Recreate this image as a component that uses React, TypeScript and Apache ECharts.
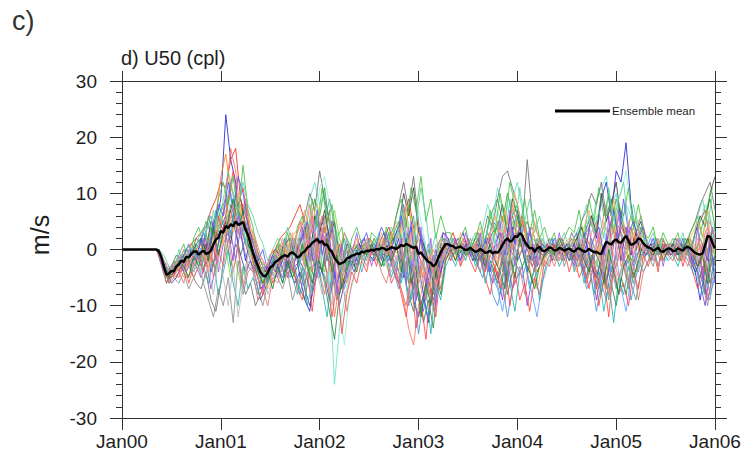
import React, { useEffect, useRef } from "react";
import * as echarts from "echarts";

// ---- data ----
const X_TICK_LABELS = ["Jan00", "Jan01", "Jan02", "Jan03", "Jan04", "Jan05", "Jan06"];
const Y_MIN = -30;
const Y_MAX = 30;
// members start to diverge at T0 (years since Jan00), sampled every STEP years;
// the second set of members is sampled half a step later (T0B); the mean every MEAN_STEP
const T0 = 0.35;
const T0B = 0.375;
const STEP = 0.05;
const MEAN_STEP = 0.025;

const M01 = [0, -2,-5,-5,
  -4,-1,-3,0,-2, 2,-3,1,5,9, 24,16,12,3,-2, 2,-3,-7,-6,-2, -4,-1,2,-3,1, -5,-9,-11,-4,3,
  6,2,-5,-8,-3, 0,-3,1,2,-1, -2,1,3,-1,-4, -6,-2,4,-9,-12, -8,-13,-5,-2,3, 2,-1,1,3,0,
  -2,2,-3,1,5, 4,-2,-6,3,7, 2,-4,1,-3,0, 1,-2,0,2,-1, 1,3,-2,4,6, 2,9,12,6,14,
  12,19,8,3,5, 1,-2,2,0,-1, 0,2,-1,1,-2, -4,-9,-3,2,-6];
const M02 = [0, -1,-4,-3,
  -3,-2,0,1,2, 3,4,7,9,12, 11,16,18,9,6, 3,1,-2,-4,-1, 0,2,3,4,6, 8,5,2,6,4,
  3,7,-2,1,-4, -3,-2,1,0,2, 1,-1,2,4,1, 3,6,9,4,-1, -3,-6,-8,-4,-1, 1,3,0,-1,2,
  0,-2,1,-4,-2, -5,-1,3,6,2, 5,1,-3,-1,2, 0,1,-2,-1,1, -2,1,-3,-5,-1, -7,-3,2,5,1,
  4,2,-1,3,6, 2,0,-1,2,1, -1,0,1,-1,0, 3,5,7,2,4];
const M03 = [0, -2,-4,-5,
  -3,-4,-2,-3,1, -1,3,-2,4,7, 9,4,8,6,2, -1,-3,-5,-6,-4, -3,0,-2,1,-1, 2,-3,4,9,6,
  11,4,0,-3,-6, -4,-1,0,1,-1, 2,0,-3,1,3, 5,-2,-6,-3,4, 1,-4,-2,0,2, -1,0,2,1,-1,
  1,3,-1,4,7, 9,5,10,6,8, 3,5,2,1,-2, -1,0,1,-2,0, 2,-1,4,1,-3, -5,-1,-7,4,9,
  6,3,-2,0,4, 1,-2,0,1,-1, 0,1,-2,0,2, -2,3,6,9,4];
const M04 = [0, -1,-6,-4,
  -5,-3,-1,-2,0, 1,-2,3,6,13, 17,10,6,8,4, 2,-2,-5,-4,-3, -2,-3,0,-2,-4, -6,-1,3,-2,1,
  4,-1,-7,-4,-2, -2,0,-1,1,0, -1,2,0,3,-2, -4,2,7,3,-3, -5,-2,0,-3,1, 0,2,1,-1,1,
  -1,0,2,-2,-4, -2,2,5,0,3, 6,2,-1,-4,-2, 1,-1,0,2,0, -1,0,2,-2,3, 5,-3,1,-2,4,
  0,3,6,2,-2, -1,1,0,-2,0, 1,-1,0,2,1, -2,1,-4,3,1];
const M05 = [0, -1,-3,-4,
  -2,-3,-1,0,-3, -4,1,-3,5,8, 6,10,5,7,3, 0,-1,-3,-5,-2, -1,-2,1,-3,0, -3,4,9,12,8,
  10,-6,-24,-14,-9, -5,-2,0,-1,1, 0,3,-2,-4,-1, 2,6,-3,-7,-2, -4,-7,-3,1,2, 1,-1,0,2,0,
  2,-1,4,8,5, 11,7,3,9,12, 7,3,0,-2,1, -1,2,0,-1,1, 0,2,5,8,4, 9,11,13,7,10,
  4,8,6,3,1, 2,0,-1,1,-2, -1,0,2,-1,0, 2,5,8,6,-2];
const M06 = [0, -2,-5,-3,
  -3,-1,-4,-2,-3, -5,-2,-7,-3,1, 5,3,-2,4,1, -2,-4,-6,-3,-5, -2,1,-1,0,-3, -2,-4,1,-3,5,
  2,-3,1,-5,-1, 0,-2,-1,0,1, -1,0,1,-2,0, 3,8,2,-4,-9, -11,-5,-9,-6,-2, 0,1,-1,0,1,
  -2,1,-1,-3,-6, -4,-9,-2,-7,-5, -3,-10,-5,-2,0, -1,0,1,-1,0, -2,1,-3,-6,-2, -9,-4,-1,-5,-3,
  1,-3,0,-2,1, 0,1,-1,0,-1, 1,0,-1,1,0, -3,-6,-10,-4,2];
const M07 = [0, -3,-6,-4,
  -4,-3,-5,-4,-6, -7,-4,-9,-11,-6, 2,8,5,-4,-8, -6,-10,-8,-5,-3, -4,-2,-5,-1,-2, 3,6,10,7,14,
  9,5,2,-1,3, 1,-1,0,-2,0, 1,-2,0,2,4, 8,12,7,13,5, -2,0,-4,1,3, 2,0,1,-1,0,
  1,3,2,6,4, 9,13,14,11,8, 4,16,6,3,1, 0,2,-1,1,0, 3,1,5,7,10, 8,12,6,9,5,
  3,1,4,0,2, -1,1,0,-1,1, 0,2,1,0,3, 5,8,10,12,7];
const M08 = [0, -2,-4,-3,
  -1,-2,-3,-1,2, 1,-1,4,2,6, 3,-3,1,-1,2, 0,-4,-3,-6,-3, -1,-3,-4,-2,-5, -7,-9,-3,-5,-2,
  -6,-11,-16,-8,-5, -3,-2,1,0,-1, 0,1,-2,-1,2, -1,-4,-8,-11,-7, -13,-9,-14,-5,-1, 0,-1,1,0,-1,
  0,-2,1,-1,-3, -6,-2,-8,-4,0, -3,-1,-6,-4,-2, 1,0,-1,0,1, 0,-2,1,-3,-1, -4,-8,-3,-6,-10,
  -5,-8,-3,-1,0, -1,0,1,-1,0, 0,-1,0,1,-1, -3,-5,-2,-6,-1];
const M09 = [0, -1,-5,-3,
  -2,-4,-1,-3,1, 0,3,6,2,5, 8,12,7,3,5, 1,-2,-4,-5,-1, -3,0,2,-1,1, -2,3,-1,5,2,
  -3,4,1,-3,-7, -4,-1,0,2,0, 1,-1,0,-3,-1, -2,3,-5,-1,4, 2,-3,-6,-2,1, 0,2,-1,1,-1,
  0,-3,2,-1,-5, -7,-11,-6,-2,3, 1,-4,-8,-12,-6, -2,0,-1,1,0, 1,-1,2,-2,-4, -2,-6,3,-4,-1,
  -7,-11,-5,-2,1, 0,2,-1,0,1, -1,0,1,0,-1, -2,-4,-7,-9,-3];
const M10 = [0, -2,-5,-4,
  -4,-2,-3,1,-1, -3,-5,2,-1,4, 10,18,14,6,9, 4,2,-1,-3,-5, -1,-2,0,3,1, 5,2,8,3,-4,
  -8,-2,-12,-6,0, -1,1,0,-1,2, 0,-1,2,0,-3, -5,-9,-14,-17,-10, -6,-3,-11,-4,0, 1,0,-1,2,0,
  -1,1,-2,2,4, 2,6,1,8,4, 5,2,4,0,-1, 0,-1,1,0,-1, 1,2,-1,3,5, 1,4,8,2,6,
  -3,-1,3,5,2, 0,-1,1,0,1, -1,1,0,-1,0, 1,-2,3,5,2];
const M11 = [0, -1,-4,-5,
  -3,-1,-2,-4,0, 2,5,3,7,4, 6,2,9,5,8, 3,1,-2,-3,-4, -3,-1,-3,0,2, -3,-6,-2,2,-1,
  5,9,4,-2,-4, -2,0,1,-1,0, -1,1,0,-1,2, 4,-3,2,6,-4, -2,1,-5,-3,-1, 1,0,2,0,1,
  -1,2,0,3,1, 5,-4,2,-3,6, 0,3,-1,2,-3, 0,1,0,-1,0, -1,2,0,-3,2, -1,3,5,9,4,
  7,2,-6,-9,-4, -1,0,2,-1,0, 1,-1,0,2,-1, 0,-3,2,-4,5];
const M12 = [0, -2,-3,-4,
  -2,-3,0,-1,-2, -1,-3,-1,-4,2, 0,-5,-2,-6,-3, 1,-2,-4,-7,-3, -1,2,0,-1,-2, 0,-2,-5,2,-1,
  -4,3,7,2,-1, 1,0,-2,-1,0, 0,-2,1,3,0, -1,5,8,2,-5, -3,0,-6,-2,1, 0,-1,1,-1,1,
  1,0,-2,0,2, 4,1,-3,5,2, 0,-2,3,1,2, -1,0,1,0,-1, 0,-2,-1,2,0, -3,1,-2,5,1,
  3,-1,2,6,3, 1,0,-1,1,0, 0,1,-1,0,1, -1,2,0,3,-1];
const M13 = [0, -1,-4,-6,
  -5,-3,-2,0,-1, -2,1,-4,-1,3, 5,7,3,-1,-4, -2,-5,-9,-7,-4, -5,-3,-1,-4,-6, -4,-7,-10,-6,-3,
  -5,-9,-4,-10,-6, -2,-4,-1,0,-1, -2,0,-1,1,-1, 2,-5,-1,-7,-3, -8,-4,-1,-6,-2, -1,0,1,0,-1,
  0,1,-1,2,-1, -3,3,-1,4,-2, 0,2,-2,-1,1, 0,-1,0,1,0, -1,0,-2,1,-3, -5,-2,-6,-1,3,
  -2,4,-1,2,0, -1,0,1,0,-1, 0,-1,0,1,-1, -4,-2,-8,1,-3];
const M14 = [0, -1,-5,-4,
  -3,-2,0,-1,-3, 0,-2,3,1,6, 4,9,11,7,2, -1,-3,-6,-4,-2, -2,-1,1,-2,0, 3,1,-3,4,11,
  13,8,-3,-10,-17, -8,-5,-2,0,-1, 1,-1,0,2,1, 3,-2,5,1,7, 3,-2,-5,-1,1, 0,1,0,-1,0,
  1,-1,3,-2,2, 7,3,8,2,-1, 4,1,-2,0,2, 0,1,-1,0,1, 1,-1,2,5,3, 6,1,4,-2,8,
  10,14,7,4,6, 1,-1,0,2,0, 0,1,0,-1,1, 2,4,1,6,3];
const M15 = [0, -2,-5,-4,
  -2,-4,-3,-1,-2, -1,1,-2,3,1, 3,6,4,2,5, 1,-1,-3,-5,-3, -2,-1,0,-1,1, -1,1,-2,3,0,
  2,-1,-3,1,-2, -1,0,1,-1,1, 0,-1,1,0,-1, 1,-2,3,-1,2, 0,-2,-4,-1,1, 0,1,-1,0,1,
  -1,0,1,-1,0, 1,-2,3,-1,2, 0,1,-1,1,0, 0,1,0,-1,0, 1,0,-1,2,0, 1,-2,2,0,3,
  1,0,2,1,0, 0,-1,1,0,1, 0,1,0,-1,0, 0,2,-1,1,2];
const M16 = [0, -1,-3,-5,
  -4,-2,-1,-2,0, -2,2,-1,3,5, 7,11,9,4,1, -1,-4,-6,-5,-2, -1,1,-2,2,3, 4,7,3,-1,5,
  6,1,-4,0,3, 0,-1,2,1,-1, 0,2,1,-1,3, 2,5,1,-2,-6, -4,-8,-5,-1,1, 1,0,-1,1,0,
  -1,2,0,-3,1, -3,2,6,3,5, 1,-2,-5,-7,-3, 0,-1,1,0,1, -2,-4,-1,-6,-3, 0,-2,-5,1,-3,
  0,-5,-2,-4,1, 0,1,-1,0,-1, 1,0,-1,0,2, -1,-3,0,-2,1];
const M17 = [0, -2,-4,-4,
  -3,-1,-2,0,-1, -3,0,2,-2,4, 6,3,10,5,1, 0,-2,-5,-3,-4, -3,-4,-2,-5,-3, -8,-4,-7,-1,-5,
  -2,-7,-3,-1,2, -2,0,-1,1,0, 1,0,-2,-1,-4, -7,-3,-10,-6,-15, -9,-12,-7,-3,-1, 0,-1,0,1,0,
  -1,-3,-5,-2,-8, -10,-6,-12,-7,-3, -5,-2,1,-3,0, 1,0,-1,0,1, -1,-3,-2,-7,-5, -11,-6,-9,-3,-7,
  -4,-2,-9,-5,-1, -1,1,0,-1,0, 0,-1,1,0,-1, -1,-6,-4,-8,-5];
const M18 = [0, -1,-4,-4,
  -3,-2,0,-1,1, 2,0,5,3,2, 5,1,7,9,4, 3,0,-3,-4,-2, 0,-1,1,2,-1, 1,4,-2,6,3,
  7,2,5,-1,-3, -2,0,1,-1,0, -1,1,0,1,2, 4,10,6,11,3, 1,-2,-6,-3,0, 1,0,-1,0,1,
  0,2,-1,1,3, 4,8,3,9,6, 2,0,-2,1,-1, 0,1,0,-1,1, 0,2,4,1,6, 3,10,5,8,12,
  5,2,0,3,-1, 0,1,0,-1,1, -1,0,1,0,-1, 3,6,4,10,13];

// second set (sampled from T0B)
const N01 = [-1, -3,-6,-4,
  -5,-2,-6,-3,-1, -4,2,-3,6,3, 9,14,8,11,5, -2,-5,-8,-3,-6, -4,0,-5,-2,-7, -9,-4,-11,-3,2,
  -5,-12,-6,-15,-8, -4,-6,-2,-4,0, -3,1,-2,-6,-4, -8,-12,-5,-14,-9, -16,-7,-12,-3,1, -2,2,-3,1,-2,
  -4,-1,-5,-8,-3, -7,-2,-10,-4,-9, -6,-11,-5,-8,-2, -3,1,-2,0,-4, -1,-5,-3,-7,-2, -10,-5,-12,-3,-8,
  -6,-10,-4,-7,-1, -3,0,-4,2,-1, -2,1,-3,0,-4, -7,-3,-9,-5];
const N02 = [0, -2,-5,-3,
  -1,1,-3,2,4, 1,6,2,9,12, 8,13,6,15,7, 4,-1,-3,-6,-2, 1,-2,3,-1,4, 6,2,9,4,11,
  5,8,2,4,-3, 2,4,1,-1,3, 2,-1,4,1,6, 9,4,11,7,13, 5,9,2,6,3, 3,-1,2,4,0,
  2,5,1,7,3, 10,5,12,8,4, 9,3,7,2,4, 1,3,-1,2,4, 3,7,2,9,5, 11,6,10,3,8,
  6,11,4,8,3, 2,4,0,3,1, 1,3,-1,2,4, 6,2,8,11];
const N03 = [-1, -4,-3,-5,
  -1,-4,0,-3,-2, 2,-1,5,-4,1, 3,-2,6,1,-3, -4,-2,-7,-5,-2, -5,-1,-3,2,-2, 4,-3,6,-5,3,
  -2,5,-8,1,-5, -1,3,-2,1,-3, 1,-2,3,-1,-4, 2,-6,5,-9,4, -7,2,-10,-2,3, -1,2,-2,3,0,
  -2,3,-4,2,-1, 5,-4,7,-3,2, -2,4,-3,2,-1, 2,-1,3,-2,1, -3,2,-4,4,-2, 3,-5,6,-4,7,
  -2,5,-3,2,-1, 1,-2,2,-3,1, -1,2,-2,1,-3, 4,-5,3,-2];
const N04 = [0, -3,-4,-2,
  -3,0,-2,-4,-1, -3,-6,-2,-8,-4, 0,-6,-10,-3,-7, -5,-8,-4,-6,-2, -3,-6,-2,-5,-8, -3,-10,-6,-2,-7,
  -12,-4,-9,-5,-2, -3,0,-4,-1,-2, 0,-3,-1,-5,-2, -6,-2,-9,-4,-11, -7,-15,-6,-9,-3, -1,-3,0,-2,1,
  -3,-1,-6,-2,-5, -8,-3,-6,-11,-4, -2,-7,-3,-9,-4, -2,0,-3,-1,1, -4,-1,-6,-3,-8, -4,-11,-6,-13,-5,
  -8,-3,-6,-2,-4, -2,1,-3,0,-2, -1,-3,0,-2,-4, -5,-8,-4,-2];
const N05 = [0, -2,-4,-5,
  -3,-5,-1,-3,1, 0,-3,2,5,1, 7,3,10,4,6, 2,-2,-4,-7,-4, -2,1,-1,3,-1, 2,-1,5,8,3,
  2,-4,1,-6,0, -1,2,-2,1,-1, 0,3,-1,2,5, 3,8,-2,5,-1, -4,0,-3,2,-2, 1,-2,3,0,-1,
  1,4,-1,3,6, 2,7,4,10,6, 3,-1,5,1,-3, 1,-2,2,-1,0, 2,-1,4,7,3, -2,5,2,9,3,
  5,-2,3,0,4, 1,-1,2,-2,1, 2,0,-2,1,3, 5,2,7,-1];
const N06 = [0, -3,-6,-5,
  -6,-4,-7,-5,-3, -6,-9,-12,-7,-10, -5,-13,-2,-8,-4, -3,-7,-10,-6,-4, -5,-7,-4,-9,-6, -5,-2,-8,-1,4,
  -2,5,-1,-4,1, -1,-3,0,-2,1, -2,0,3,-1,-3, -5,1,-3,-7,-2, -4,-9,-2,-5,2, 0,-2,1,-1,2,
  -1,-4,0,-3,-1, 2,-3,4,-2,1, 5,0,-3,2,-1, 0,-2,1,-3,0, -2,1,-4,-1,-3, -6,-2,-9,-3,1,
  -3,-7,-1,-4,0, -1,-3,1,-2,0, 0,-2,1,-1,-3, -2,-6,-10,-4];
const N07 = [0, -2,-4,-3,
  -2,-1,1,-2,0, 3,0,4,8,6, 12,7,13,10,4, 1,-2,0,-4,-1, -3,-5,-1,-4,0, 2,5,-2,7,-1,
  3,-2,-6,-3,1, 0,-2,1,3,-1, 1,4,2,0,3, 6,1,4,-3,2, -2,-5,0,-4,-1, 1,0,-2,1,-1,
  0,-2,2,-4,1, 3,-1,6,1,4, -1,3,0,-3,-1, 0,2,-1,1,-2, 1,-2,3,-1,2, 4,-1,3,7,2,
  9,3,5,2,4, 0,2,-1,1,-1, 1,-1,2,0,-2, -3,1,-2,4];
const N08 = [-1, -3,-5,-2,
  -4,-6,-2,-5,-3, -2,1,-5,0,-3, 2,-4,1,-7,-3, -4,-9,-7,-10,-5, -6,-3,-1,-4,1, -2,3,-4,2,6,
  1,-3,-9,-5,-11, -6,-3,-1,-3,0, -1,-4,-6,-2,-5, -7,-10,-4,-8,-3, -9,-5,-2,-7,-1, -2,0,-3,-1,0,
  1,-2,-4,-1,-3, -5,-9,-2,-6,-3, -8,-2,-4,-1,-3, -1,-3,0,-2,1, 0,-3,-1,-4,-2, -6,-3,-8,-2,-5,
  -2,-6,-3,-9,-4, -2,0,-3,1,-1, 0,-2,-1,-3,0, -3,1,-5,-2];
const N09 = [0, -1,-3,-4,
  0,-2,1,-1,2, 4,1,7,3,9, 14,10,7,12,8, 6,3,1,-2,0, 2,-1,4,1,-2, 0,4,1,6,-3,
  -6,-1,3,-4,2, -1,1,-2,2,0, 2,-1,1,4,2, 7,3,-2,5,11, 6,-1,3,-3,0, 2,-1,1,-2,1,
  3,0,2,5,1, 6,2,9,4,11, 5,9,3,6,1, 2,-1,1,3,0, 2,4,1,6,3, 7,2,11,5,9,
  12,4,8,3,2, 1,3,-1,2,0, 2,0,3,-1,1, 6,9,4,10];
const N10 = [0, -2,-3,-4,
  -1,-3,0,-4,-2, -6,-3,-8,-2,-5, -10,-3,-12,-6,-2, -4,-6,-3,-8,-5, -2,-4,1,-3,2, -1,-5,2,-4,-8,
  -4,-10,-5,-1,-4, -2,-1,-3,0,-2, -1,1,-2,-4,-1, -3,1,-5,-2,-7, -3,-6,1,-2,0, -1,1,-1,0,-2,
  0,-1,1,-3,-1, -2,1,-4,0,3, -1,-3,0,-2,-5, -1,0,-2,1,0, -1,2,-2,0,-3, -1,-4,1,-3,-6,
  -2,-5,-1,-3,0, 0,-2,1,-1,0, -1,1,0,-2,1, -2,0,-3,-1];
const N11 = [0, -3,-5,-4,
  -2,-3,-5,-1,-3, 1,-2,4,-1,3, 5,9,3,7,1, -1,-4,-6,-4,-7, -3,-6,-2,-5,-3, 1,-3,-6,-1,-4,
  2,-4,-1,-7,-3, -2,-4,0,-1,1, -1,-3,0,-2,1, -4,2,-6,-3,-12, -6,-10,-4,-8,-2, 0,-2,1,-1,0,
  -2,0,-3,1,-2, -4,-7,-1,-5,2, -2,-4,-7,-3,-1, 0,-1,2,0,-2, -1,1,-2,-4,0, -2,-6,0,-4,-8,
  -3,-1,-5,-2,1, 0,-1,1,-2,0, 1,-1,0,2,-1, -3,-1,-6,2];
const N12 = [-1, -2,-4,-3,
  -2,0,-3,-1,-2, -1,-4,1,-2,2, 4,8,3,6,2, 3,-1,-2,-3,0, -1,2,-2,1,3, 5,1,7,-2,4,
  -1,3,-5,-2,-6, -3,-1,0,2,-1, 0,2,-1,1,-2, 1,-4,3,-6,-2, -5,-1,-7,-3,1, -1,1,0,2,0,
  1,-1,0,3,-2, 1,4,-2,3,-1, 2,-1,1,-3,0, 1,0,-1,1,2, 0,-2,2,1,-1, 3,-3,1,4,-2,
  2,5,-1,3,0, -1,1,0,-2,1, 0,2,-1,1,-1, 2,-1,4,0];

const MEMBERS_A = [M01, M02, M03, M04, M05, M06, M07, M08, M09, M10, M11, M12, M13, M14, M15, M16, M17, M18];
const MEMBERS_B = [N01, N02, N03, N04, N05, N06, N07, N08, N09, N10, N11, N12];

// ensemble mean, every MEAN_STEP years from T0
const ENSEMBLE_MEAN = [
  0,-0.4,-1.5,-3.2,-4.5,-4.3,-3.8,-3.9,
  -3.0,-2.7,-2.0,-2.2,-1.3,-1.4,-0.8,-0.4,
  -0.3,-0.9,-0.5,-0.2,-0.8,-0.6,-0.2,0.9,
  1.8,2.1,3.3,3.0,4.2,3.8,4.5,4.1,
  5.0,4.4,4.6,4.9,3.5,2.6,1.0,-0.5,
  -1.8,-2.9,-4.0,-4.6,-4.8,-4.1,-3.2,-2.9,
  -2.2,-2.0,-1.6,-1.2,-1.0,-1.3,-0.7,-0.5,
  -0.9,-1.4,-1.2,-0.6,-0.3,0.3,0.6,1.2,
  1.5,1.9,1.2,1.5,0.8,0.9,0.0,-0.4,
  -1.5,-2.1,-2.6,-2.4,-2.2,-1.6,-1.4,-1.1,
  -1.0,-0.7,-0.8,-0.4,-0.5,-0.2,-0.3,0.0,
  -0.2,0.1,0.0,0.3,0.2,-0.1,0.1,0.4,
  0.3,0.1,0.4,0.8,0.6,1.0,0.8,0.5,
  0.3,0.5,-0.8,-0.5,-1.2,-1.7,-2.2,-2.4,
  -3.0,-2.6,-1.5,-0.5,0.3,1.0,0.9,0.7,
  0.6,0.2,0.4,0.5,0.2,-0.1,0.0,0.3,
  -0.1,-0.4,-0.3,0.1,-0.2,-0.6,-0.5,-0.2,
  -0.7,-0.4,-0.6,0.0,0.8,1.6,2.0,1.4,
  1.6,2.4,2.2,2.9,2.5,1.4,0.8,0.2,
  0.3,-0.4,0.2,0.5,-0.2,-0.3,0.0,0.4,
  0.2,-0.2,-0.1,0.3,0.1,-0.2,0.0,0.2,
  -0.2,-0.4,0.1,0.2,-0.1,-0.4,-0.3,0.1,
  -0.2,-0.5,-0.4,-0.7,-0.8,0.4,1.4,1.1,
  0.9,1.5,1.8,1.3,1.2,1.9,2.4,1.6,
  0.8,1.0,1.3,2.0,1.8,1.1,0.6,0.4,
  0.2,-0.2,0.0,0.3,-0.3,-0.4,-0.1,0.2,
  0.1,-0.3,-0.2,0.2,0.0,-0.2,0.3,0.5,
  0.2,-0.2,-0.6,-0.8,-0.9,-0.7,0.8,2.4,
  2.3,1.1,0.2,
];

// ---- styles ----
const COLORS_A = [
  "#1f1fd6", "#e8281e", "#2ca02c", "#ff7f0e", "#5fe0c8", "#7b3fe0",
  "#6e6e6e", "#2f7f3f", "#5b9bff", "#ff6a5a", "#3aa58a", "#7fd13a",
  "#3a3ab0", "#8ff0d8", "#c07a6a", "#ff9a4a", "#4a8fd0", "#3d3d3d",
];
const COLORS_B = [
  "#ff4040", "#40c040", "#a050f0", "#20b0b0", "#ffb060", "#8a8a8a",
  "#5050ff", "#e07070", "#60d0a0", "#b8b8b8", "#208020", "#ff8c8c",
];
const FONT = "Liberation Sans, Arial, Helvetica, sans-serif";
const AXIS_COLOR = "#333333";
const TEXT_COLOR = "#1e1e1e";

function toSeriesData(vals: number[], start: number, step: number) {
  const out: [number, number][] = [[0, 0]];
  if (start > T0) out.push([T0, 0]);
  vals.forEach((v, i) => out.push([+(start + i * step).toFixed(4), v]));
  return out;
}

function memberSeries(vals: number[], color: string, start: number, name: string) {
  return {
    type: "line" as const,
    name,
    data: toSeriesData(vals, start, STEP),
    showSymbol: false,
    symbol: "none",
    lineStyle: { color, width: 1, opacity: 0.82 },
    itemStyle: { color },
    z: 2,
    silent: true,
  };
}

export default function App() {
  const ref = useRef<HTMLDivElement>(null);
  useEffect(() => {
    if (!ref.current) return;
    const chart = echarts.init(ref.current, undefined, { renderer: "svg" });
    const axisLine = { show: true, onZero: false, lineStyle: { color: AXIS_COLOR, width: 1 } };
    const xBase = {
      type: "value" as const,
      min: 0,
      max: X_TICK_LABELS.length - 1,
      interval: 1,
      axisLine,
      splitLine: { show: false },
    };
    const yBase = {
      type: "value" as const,
      min: Y_MIN,
      max: Y_MAX,
      interval: 10,
      axisLine,
      splitLine: { show: false },
      minorTick: { show: true, splitNumber: 5, length: 6, lineStyle: { color: AXIS_COLOR, width: 1 } },
      minorSplitLine: { show: false },
    };
    const series: any[] = [];
    MEMBERS_A.forEach((m, k) => series.push(memberSeries(m, COLORS_A[k % COLORS_A.length], T0, "a" + k)));
    MEMBERS_B.forEach((m, k) => series.push(memberSeries(m, COLORS_B[k % COLORS_B.length], T0B, "b" + k)));
    series.push({
      type: "line",
      name: "Ensemble mean",
      data: toSeriesData(ENSEMBLE_MEAN, T0, MEAN_STEP),
      showSymbol: false,
      symbol: "none",
      lineStyle: { color: "#000000", width: 2.4 },
      itemStyle: { color: "#000000" },
      z: 5,
      silent: true,
    });
    chart.setOption({
      animation: false,
      backgroundColor: "#ffffff",
      textStyle: { fontFamily: FONT },
      grid: { left: 122, top: 81, width: 593, height: 337, containLabel: false },
      legend: {
        data: ["Ensemble mean"],
        left: 555,
        top: 105,
        padding: 0,
        icon: "rect",
        itemWidth: 55,
        itemHeight: 3,
        textStyle: { fontSize: 11.5, color: TEXT_COLOR, fontFamily: FONT, padding: [0, 0, 0, -3] },
      },
      xAxis: [
        {
          ...xBase,
          position: "bottom",
          axisTick: { show: true, inside: false, length: 12, lineStyle: { color: AXIS_COLOR, width: 1 } },
          axisLabel: {
            show: true,
            margin: 14,
            fontSize: 19,
            color: TEXT_COLOR,
            fontFamily: FONT,
            formatter: (v: number) => X_TICK_LABELS[Math.round(v)],
          },
        },
        {
          ...xBase,
          position: "top",
          axisTick: { show: true, inside: false, length: 10, lineStyle: { color: AXIS_COLOR, width: 1 } },
          axisLabel: { show: false },
        },
      ],
      yAxis: [
        {
          ...yBase,
          position: "left",
          axisTick: { show: true, inside: false, length: 12, lineStyle: { color: AXIS_COLOR, width: 1 } },
          axisLabel: { show: true, margin: 25, fontSize: 19, color: TEXT_COLOR, fontFamily: FONT },
        },
        {
          ...yBase,
          position: "right",
          axisTick: { show: true, inside: false, length: 12, lineStyle: { color: AXIS_COLOR, width: 1 } },
          axisLabel: { show: false },
        },
      ],
      graphic: [
        {
          type: "text",
          left: 12,
          top: 7,
          style: { text: "c)", fontSize: 27, fill: "#333333", fontFamily: FONT },
        },
        {
          type: "text",
          left: 121,
          top: 48,
          style: { text: "d) U50 (cpl)", fontSize: 20, fill: TEXT_COLOR, fontFamily: FONT },
        },
        {
          type: "text",
          x: 40,
          y: 235,
          rotation: Math.PI / 2,
          style: {
            text: "m/s",
            fontSize: 25,
            fill: TEXT_COLOR,
            fontFamily: FONT,
            align: "center",
            verticalAlign: "middle",
          },
        },
      ],
      series,
    });
    return () => chart.dispose();
  }, []);
  return (
    <div
      ref={ref}
      style={{ position: "absolute", left: 0, top: 0, width: 745, height: 465, background: "#fff" }}
    />
  );
}
